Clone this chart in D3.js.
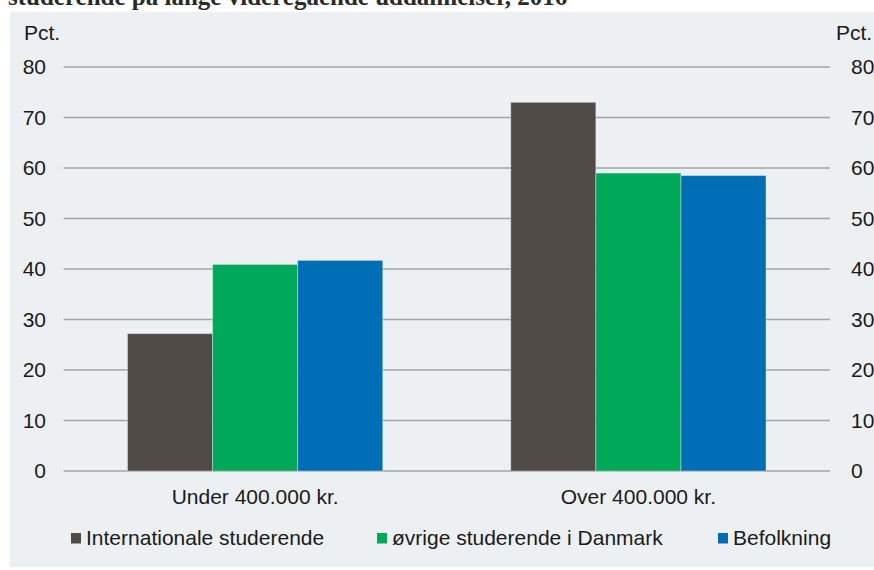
<!DOCTYPE html>
<html>
<head>
<meta charset="utf-8">
<script src="https://cdn.jsdelivr.net/npm/d3@7"></script>
<style>
  html, body { margin: 0; padding: 0; background: #ffffff; }
  svg { display: block; }
  text { font-family: "Liberation Sans", Arial, sans-serif; fill: #1a1a1a; }
</style>
</head>
<body>
<svg id="chart" width="874" height="570"></svg>
<script>
// ---- data ----
const titleText = "studerende på lange videregående uddannelser, 2016";
const categories = ["Under 400.000 kr.", "Over 400.000 kr."];
const seriesNames = ["Internationale studerende", "øvrige studerende i Danmark", "Befolkning"];
const internationale = [27.2, 73.0];
const oevrige = [40.9, 59.0];
const befolkning = [41.7, 58.5];
const yTicks = [0, 10, 20, 30, 40, 50, 60, 70, 80];
const unitLabel = "Pct.";

const seriesValues = [internationale, oevrige, befolkning];
const colors = ["#504b47", "#00a85a", "#006eb6"];

const svg = d3.select("#chart");
const W = 874, H = 570;

// title (cut off at top, as in the reference)
svg.append("text")
  .attr("x", 8).attr("y", 5)
  .style("font-family", "'Liberation Serif', 'DejaVu Serif', serif")
  .style("font-weight", "bold")
  .style("font-size", "25px")
  .style("fill", "#2a2a2a")
  .text(titleText);

// panel
svg.append("rect").attr("x", 10).attr("y", 12).attr("width", W - 10).attr("height", 555)
  .attr("fill", "#ecf0f3");

const plotL = 63.5, plotR = 830;
const y = d3.scaleLinear().domain([0, 80]).range([471, 67]);
const x0 = d3.scaleBand().domain(categories).range([plotL, plotR]).paddingInner(0.334).paddingOuter(0.167);
const x1 = d3.scaleBand().domain(seriesNames).range([0, x0.bandwidth()]).padding(0);

// gridlines
const grid = svg.append("g");
grid.selectAll("line").data(yTicks).enter().append("line")
  .attr("x1", plotL).attr("x2", plotR)
  .attr("y1", d => y(d)).attr("y2", d => y(d))
  .attr("stroke", "#a4a4a4").attr("stroke-width", 1.5);

// left axis labels
const leftAxis = d3.axisLeft(y).tickValues(yTicks).tickSize(0).tickPadding(0);
const gl = svg.append("g").attr("transform", "translate(46,0)").call(leftAxis);
gl.select(".domain").remove();
gl.selectAll("text").style("font-size", "21px").style("font-family", "'Liberation Sans', Arial, sans-serif").attr("fill", "#1a1a1a");

// right axis labels
const rightAxis = d3.axisRight(y).tickValues(yTicks).tickSize(0).tickPadding(0);
const gr = svg.append("g").attr("transform", "translate(851,0)").call(rightAxis);
gr.select(".domain").remove();
gr.selectAll("text").style("font-size", "21px").style("font-family", "'Liberation Sans', Arial, sans-serif").attr("fill", "#1a1a1a");

// unit labels
svg.append("text").attr("x", 24).attr("y", 40).style("font-size", "21px").text(unitLabel);
svg.append("text").attr("x", 836).attr("y", 40).style("font-size", "21px").text(unitLabel);

// bars
const groups = svg.append("g").selectAll("g").data(categories).enter().append("g")
  .attr("transform", d => `translate(${x0(d)},0)`);
groups.selectAll("rect")
  .data((c, ci) => seriesNames.map((s, si) => ({ s, si, v: seriesValues[si][ci] })))
  .enter().append("rect")
  .attr("x", d => x1(d.s))
  .attr("width", x1.bandwidth())
  .attr("y", d => y(d.v))
  .attr("height", d => y(0) - y(d.v))
  .attr("fill", d => colors[d.si])
  .attr("stroke", "rgba(255,255,255,0.35)")
  .attr("stroke-width", 1);

// x axis labels
const xAxis = d3.axisBottom(x0).tickSize(0).tickPadding(0);
const gx = svg.append("g").attr("transform", "translate(0,489)").call(xAxis);
gx.select(".domain").remove();
gx.selectAll("text").style("font-size", "21px").style("font-family", "'Liberation Sans', Arial, sans-serif").attr("fill", "#1a1a1a");

// legend
const legendX = [71, 377, 718];
const lg = svg.append("g").selectAll("g").data(seriesNames).enter().append("g")
  .attr("transform", (d, i) => `translate(${legendX[i]},533)`);
lg.append("rect").attr("width", 10).attr("height", 10.5).attr("fill", (d, i) => colors[i]);
lg.append("text").attr("x", 15).attr("y", 12).style("font-size", "21px").text(d => d);
</script>
</body>
</html>
